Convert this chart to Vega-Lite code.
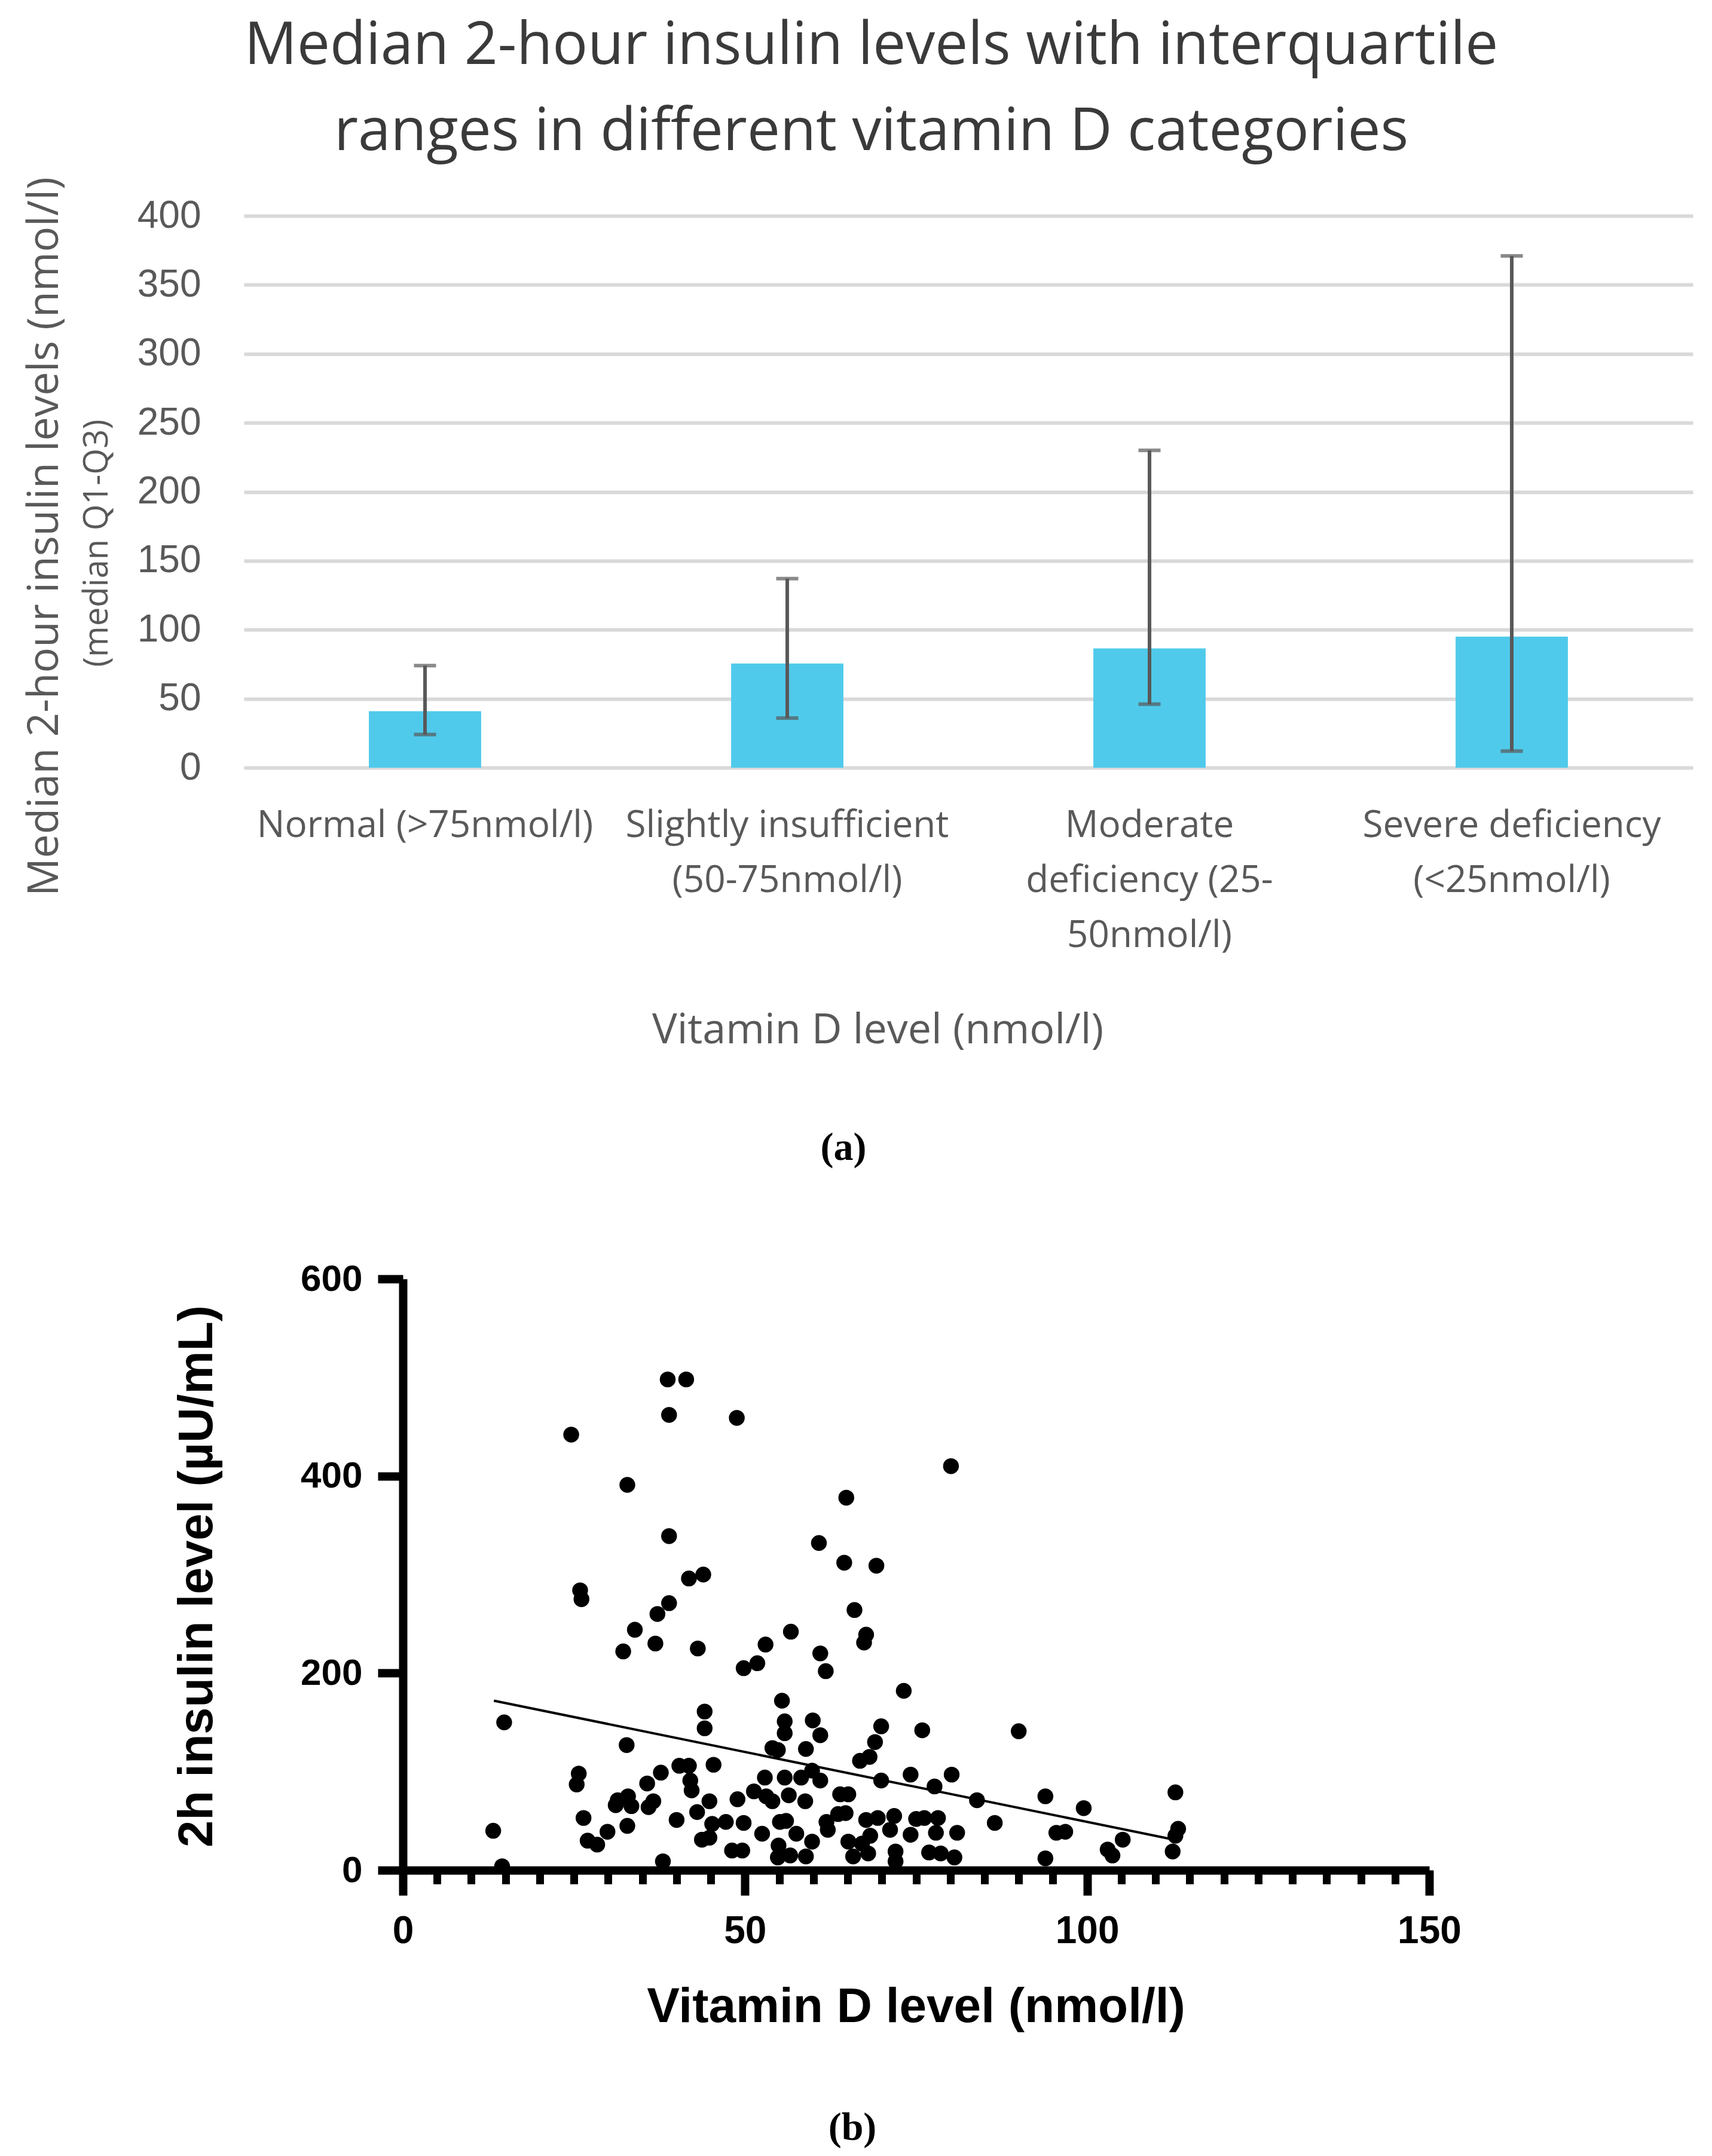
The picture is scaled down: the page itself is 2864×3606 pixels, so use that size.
{
  "$schema": "https://vega.github.io/schema/vega-lite/v6.json",
  "background": "white",
  "padding": {"left": 38, "top": 28, "right": 10, "bottom": 6},
  "config": {"view": {"stroke": null}},
  "title": {
    "text": ["Median 2-hour insulin levels with interquartile", "ranges in different vitamin D categories"],
    "font": "Open Sans", "fontSize": 98, "fontWeight": "normal", "color": "#3a3a3a",
    "lineHeight": 144, "anchor": "middle", "offset": 24, "dx": 22
  },
  "bounds": "flush",
  "center": true,
  "spacing": 855,
  "datasets": {
    "bars": [
      {"category": "Normal (>75nmol/l)", "median": 41, "q1": 24, "q3": 74},
      {"category": "Slightly insufficient (50-75nmol/l)", "median": 75.5, "q1": 36, "q3": 137},
      {"category": "Moderate deficiency (25-50nmol/l)", "median": 86.5, "q1": 46, "q3": 230},
      {"category": "Severe deficiency (<25nmol/l)", "median": 95, "q1": 12, "q3": 371}
    ],
    "points": [
      {"vitd": 38.7, "ins": 498}, {"vitd": 41.4, "ins": 498}, {"vitd": 38.9, "ins": 462}, {"vitd": 48.8, "ins": 459},
      {"vitd": 24.6, "ins": 442}, {"vitd": 32.8, "ins": 391}, {"vitd": 38.9, "ins": 339}, {"vitd": 41.8, "ins": 296},
      {"vitd": 43.9, "ins": 300}, {"vitd": 25.9, "ins": 284}, {"vitd": 26.1, "ins": 275}, {"vitd": 80.1, "ins": 410},
      {"vitd": 64.8, "ins": 378}, {"vitd": 60.8, "ins": 332}, {"vitd": 64.5, "ins": 312}, {"vitd": 69.2, "ins": 309},
      {"vitd": 66.0, "ins": 264}, {"vitd": 56.7, "ins": 242}, {"vitd": 67.7, "ins": 239}, {"vitd": 67.4, "ins": 231},
      {"vitd": 38.9, "ins": 271}, {"vitd": 37.2, "ins": 260}, {"vitd": 33.9, "ins": 244}, {"vitd": 36.9, "ins": 230},
      {"vitd": 32.2, "ins": 222}, {"vitd": 43.1, "ins": 225}, {"vitd": 49.8, "ins": 205}, {"vitd": 14.8, "ins": 150},
      {"vitd": 44.1, "ins": 161}, {"vitd": 44.1, "ins": 144}, {"vitd": 32.7, "ins": 127}, {"vitd": 25.7, "ins": 98},
      {"vitd": 25.4, "ins": 87}, {"vitd": 37.7, "ins": 99}, {"vitd": 40.4, "ins": 106}, {"vitd": 41.8, "ins": 106},
      {"vitd": 45.4, "ins": 107}, {"vitd": 35.7, "ins": 88}, {"vitd": 42.0, "ins": 91}, {"vitd": 42.2, "ins": 81},
      {"vitd": 31.4, "ins": 71}, {"vitd": 32.9, "ins": 75}, {"vitd": 33.4, "ins": 65}, {"vitd": 31.1, "ins": 66},
      {"vitd": 36.6, "ins": 70}, {"vitd": 35.9, "ins": 64}, {"vitd": 44.8, "ins": 70}, {"vitd": 48.9, "ins": 72},
      {"vitd": 51.3, "ins": 80}, {"vitd": 26.4, "ins": 53}, {"vitd": 40.0, "ins": 51}, {"vitd": 43.0, "ins": 59},
      {"vitd": 32.8, "ins": 45}, {"vitd": 29.9, "ins": 39}, {"vitd": 27.0, "ins": 30}, {"vitd": 28.4, "ins": 26},
      {"vitd": 13.2, "ins": 40}, {"vitd": 45.2, "ins": 47}, {"vitd": 43.7, "ins": 31}, {"vitd": 44.8, "ins": 33},
      {"vitd": 47.2, "ins": 49}, {"vitd": 49.8, "ins": 48}, {"vitd": 48.1, "ins": 20}, {"vitd": 49.6, "ins": 20},
      {"vitd": 14.5, "ins": 4}, {"vitd": 38.0, "ins": 9},
      {"vitd": 51.8, "ins": 210}, {"vitd": 53.0, "ins": 229}, {"vitd": 61.0, "ins": 220}, {"vitd": 61.8, "ins": 202},
      {"vitd": 73.2, "ins": 182}, {"vitd": 55.4, "ins": 172}, {"vitd": 55.8, "ins": 151}, {"vitd": 55.8, "ins": 139},
      {"vitd": 59.9, "ins": 152}, {"vitd": 61.0, "ins": 137}, {"vitd": 69.9, "ins": 146}, {"vitd": 69.0, "ins": 130},
      {"vitd": 68.2, "ins": 115}, {"vitd": 66.8, "ins": 111}, {"vitd": 75.9, "ins": 142}, {"vitd": 90.0, "ins": 141},
      {"vitd": 54.0, "ins": 124}, {"vitd": 54.8, "ins": 122}, {"vitd": 58.9, "ins": 123}, {"vitd": 52.9, "ins": 94},
      {"vitd": 55.8, "ins": 94}, {"vitd": 58.2, "ins": 94}, {"vitd": 59.8, "ins": 101}, {"vitd": 61.0, "ins": 91},
      {"vitd": 69.9, "ins": 91}, {"vitd": 74.2, "ins": 97}, {"vitd": 80.2, "ins": 97}, {"vitd": 77.7, "ins": 85},
      {"vitd": 83.9, "ins": 71}, {"vitd": 86.5, "ins": 48}, {"vitd": 93.9, "ins": 75}, {"vitd": 53.1, "ins": 75},
      {"vitd": 54.0, "ins": 70}, {"vitd": 56.4, "ins": 76}, {"vitd": 58.8, "ins": 70}, {"vitd": 63.9, "ins": 77},
      {"vitd": 65.1, "ins": 77}, {"vitd": 52.5, "ins": 37}, {"vitd": 55.1, "ins": 49}, {"vitd": 56.0, "ins": 50},
      {"vitd": 57.5, "ins": 37}, {"vitd": 59.8, "ins": 29}, {"vitd": 54.9, "ins": 25}, {"vitd": 54.8, "ins": 13},
      {"vitd": 56.6, "ins": 15}, {"vitd": 58.9, "ins": 14}, {"vitd": 61.9, "ins": 49}, {"vitd": 62.1, "ins": 41},
      {"vitd": 63.6, "ins": 57}, {"vitd": 64.7, "ins": 58}, {"vitd": 65.1, "ins": 29}, {"vitd": 65.8, "ins": 14},
      {"vitd": 67.7, "ins": 51}, {"vitd": 69.4, "ins": 53}, {"vitd": 68.3, "ins": 35}, {"vitd": 68.0, "ins": 17},
      {"vitd": 67.1, "ins": 27}, {"vitd": 71.8, "ins": 55}, {"vitd": 71.2, "ins": 41}, {"vitd": 72.0, "ins": 19},
      {"vitd": 72.0, "ins": 9}, {"vitd": 75.0, "ins": 52}, {"vitd": 76.2, "ins": 53}, {"vitd": 74.2, "ins": 36},
      {"vitd": 78.2, "ins": 53}, {"vitd": 77.9, "ins": 38}, {"vitd": 81.0, "ins": 38}, {"vitd": 76.9, "ins": 18},
      {"vitd": 78.6, "ins": 17}, {"vitd": 80.6, "ins": 13}, {"vitd": 93.9, "ins": 12},
      {"vitd": 99.5, "ins": 63}, {"vitd": 95.5, "ins": 38}, {"vitd": 96.8, "ins": 39}, {"vitd": 105.2, "ins": 31},
      {"vitd": 103.0, "ins": 21}, {"vitd": 103.7, "ins": 15}, {"vitd": 112.9, "ins": 79}, {"vitd": 113.3, "ins": 42},
      {"vitd": 112.9, "ins": 35}, {"vitd": 112.5, "ins": 19}
    ],
    "fit": [
      {"vitd": 13.3, "ins": 172},
      {"vitd": 112, "ins": 32}
    ]
  },
  "vconcat": [
    {
      "width": 2424,
      "height": 923,
      "data": {"name": "bars"},
      "title": {"text": "(a)", "orient": "bottom", "font": "Liberation Serif", "fontSize": 66, "fontWeight": "bold", "color": "black", "offset": 130, "anchor": "middle", "dx": -209},
      "encoding": {
        "x": {
          "field": "category", "type": "nominal", "sort": null,
          "scale": {"paddingInner": 0.69, "paddingOuter": 0.345},
          "axis": {
            "title": "Vitamin D level (nmol/l)",
            "titleFont": "Open Sans", "titleFontSize": 70, "titleFontWeight": "normal", "titleColor": "#595959",
            "titleX": 1060, "titleY": 460, "titleBaseline": "alphabetic", "titleAlign": "center",
            "labelAngle": 0, "labelFont": "Open Sans", "labelFontSize": 62, "labelColor": "#595959",
            "labelPadding": 66, "labelLineHeight": 92, "labelLimit": 1000, "labelBaseline": "top",
            "labelExpr": "datum.value == 'Slightly insufficient (50-75nmol/l)' ? ['Slightly insufficient', '(50-75nmol/l)'] : datum.value == 'Moderate deficiency (25-50nmol/l)' ? ['Moderate', 'deficiency (25-', '50nmol/l)'] : datum.value == 'Severe deficiency (<25nmol/l)' ? ['Severe deficiency', '(<25nmol/l)'] : datum.label",
            "domain": false, "ticks": false, "tickSize": 0, "grid": false
          }
        }
      },
      "layer": [
        {
          "mark": {"type": "bar", "color": "#50CAEB"},
          "encoding": {
            "y": {
              "field": "median", "type": "quantitative",
              "scale": {"domain": [0, 400], "nice": false},
              "axis": {
                "orient": "left",
                "values": [0, 50, 100, 150, 200, 250, 300, 350, 400],
                "grid": true, "gridColor": "#D9D9D9", "gridWidth": 6,
                "domain": false, "ticks": false, "tickSize": 0,
                "labelFont": "Liberation Sans", "labelFontSize": 64, "labelColor": "#595959", "labelPadding": 72,
                "title": "(median Q1-Q3)",
                "titleFont": "Open Sans", "titleFontSize": 56, "titleFontWeight": "normal", "titleColor": "#595959",
                "titleX": -246, "titleY": 547, "titleBaseline": "middle", "titleAlign": "center", "titleAngle": -90
              }
            }
          }
        },
        {
          "layer": [
            {
              "mark": {"type": "rule", "color": "#595959", "strokeWidth": 6},
              "encoding": {
                "y": {"field": "q1", "type": "quantitative", "scale": {"domain": [0, 400], "nice": false},
                  "axis": {"orient": "left", "labels": false, "ticks": false, "tickSize": 0, "domain": false, "grid": false,
                    "title": "Median 2-hour insulin levels (nmol/l)",
                    "titleFont": "Open Sans", "titleFontSize": 71, "titleFontWeight": "normal", "titleColor": "#595959",
                    "titleX": -333, "titleY": 536, "titleBaseline": "middle", "titleAlign": "center", "titleAngle": -90}},
                "y2": {"field": "q3"}
              }
            },
            {
              "mark": {"type": "tick", "color": "#595959", "thickness": 6, "size": 37, "orient": "horizontal"},
              "encoding": {
                "y": {"field": "q1", "type": "quantitative", "scale": {"domain": [0, 400], "nice": false},
                  "axis": {"orient": "left", "labels": false, "ticks": false, "tickSize": 0, "domain": false, "grid": false,
                    "title": "Median 2-hour insulin levels (nmol/l)",
                    "titleFont": "Open Sans", "titleFontSize": 71, "titleFontWeight": "normal", "titleColor": "#595959",
                    "titleX": -333, "titleY": 536, "titleBaseline": "middle", "titleAlign": "center", "titleAngle": -90}}
              }
            },
            {
              "mark": {"type": "tick", "color": "#595959", "thickness": 6, "size": 37, "orient": "horizontal"},
              "encoding": {
                "y": {"field": "q3", "type": "quantitative", "scale": {"domain": [0, 400], "nice": false},
                  "axis": {"orient": "left", "labels": false, "ticks": false, "tickSize": 0, "domain": false, "grid": false,
                    "title": "Median 2-hour insulin levels (nmol/l)",
                    "titleFont": "Open Sans", "titleFontSize": 71, "titleFontWeight": "normal", "titleColor": "#595959",
                    "titleX": -333, "titleY": 536, "titleBaseline": "middle", "titleAlign": "center", "titleAngle": -90}}
              }
            }
          ]
        }
      ],
      "resolve": {"scale": {"y": "independent"}, "axis": {"y": "independent"}}
    },
    {
      "width": 1892,
      "height": 989,
      "title": {"text": "(b)", "orient": "bottom", "font": "Liberation Serif", "fontSize": 66, "fontWeight": "bold", "color": "black", "offset": 130, "anchor": "middle", "dx": -194},
      "layer": [
        {
          "data": {"name": "points"},
          "mark": {"type": "circle", "size": 700, "color": "black", "opacity": 1},
          "encoding": {
            "x": {
              "field": "vitd", "type": "quantitative",
              "scale": {"domain": [0, 150], "range": [0, 1717], "nice": false, "zero": false},
              "axis": {
                "orient": "bottom", "values": [0, 50, 100, 150],
                "domain": true, "domainColor": "black", "domainWidth": 14,
                "ticks": true, "tickColor": "black", "tickWidth": 14, "tickSize": 42,
                "grid": false,
                "labelFont": "Liberation Sans", "labelFontWeight": "bold", "labelFontSize": 64, "labelColor": "black",
                "labelPadding": 28, "labelFlush": false, "labelOverlap": false,
                "title": "Vitamin D level (nmol/l)",
                "titleFont": "Liberation Sans", "titleFontWeight": "bold", "titleFontSize": 82, "titleColor": "black",
                "titleX": 858, "titleY": 253, "titleBaseline": "alphabetic", "titleAlign": "center"
              }
            },
            "y": {
              "field": "ins", "type": "quantitative",
              "scale": {"domain": [0, 600], "nice": false},
              "axis": {
                "orient": "left", "values": [0, 200, 400, 600],
                "domain": true, "domainColor": "black", "domainWidth": 14,
                "ticks": true, "tickColor": "black", "tickWidth": 14, "tickSize": 42,
                "grid": false,
                "labelFont": "Liberation Sans", "labelFontWeight": "bold", "labelFontSize": 62, "labelColor": "black",
                "labelPadding": 26, "labelFlush": false,
                "title": "2h insulin level (µU/mL)",
                "titleFont": "Liberation Sans", "titleFontWeight": "bold", "titleFontSize": 81, "titleColor": "black",
                "titleX": -344, "titleY": 497, "titleBaseline": "middle", "titleAlign": "center", "titleAngle": -90
              }
            }
          }
        },
        {
          "data": {"name": "fit"},
          "mark": {"type": "line", "color": "black", "strokeWidth": 4},
          "encoding": {
            "x": {
              "field": "vitd", "type": "quantitative",
              "scale": {"domain": [0, 150], "range": [0, 1717], "nice": false, "zero": false},
              "axis": {
                "orient": "bottom",
                "values": [0, 5, 10, 15, 20, 25, 30, 35, 40, 45, 50, 55, 60, 65, 70, 75, 80, 85, 90, 95, 100, 105, 110, 115, 120, 125, 130, 135, 140, 145, 150],
                "domain": false, "ticks": true, "tickColor": "black", "tickWidth": 13, "tickSize": 23,
                "labels": false, "grid": false, "title": null
              }
            },
            "y": {"field": "ins", "type": "quantitative"}
          }
        }
      ],
      "resolve": {"scale": {"x": "independent"}, "axis": {"x": "independent"}}
    }
  ]
}
